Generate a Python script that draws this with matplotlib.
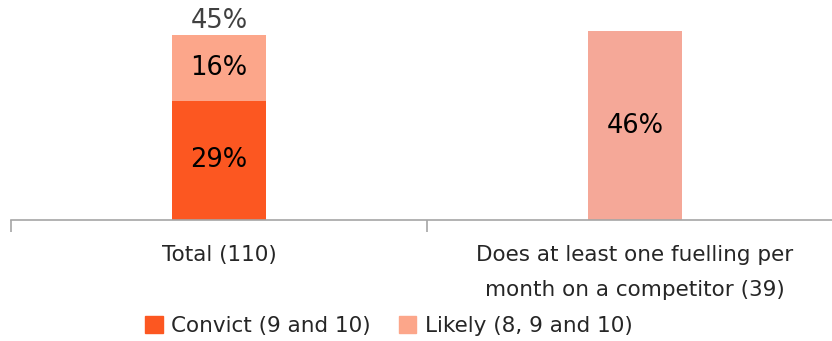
import numpy as np
import matplotlib.pyplot as plt
from matplotlib.patches import Patch

plt.rcParams['font.family'] = ['DejaVu Sans']

categories = ['Total (110)', 'Does at least one fuelling per\nmonth on a competitor (39)']
convict = [29, 0]
likely_extra = [16, 0]
likely_total = [45, 46]

c_convict = '#FC5721'
c_likely = '#FCA68A'
c_likely2 = '#F5A898'
grey = '#A6A6A6'

fig = plt.figure(figsize=(8.32, 3.41), dpi=100)
# axes area measured in pixels: x 11..843, y 0..220
ax = fig.add_axes([11 / 832, 1 - 220 / 341, 832 / 832, 220 / 341])

x = np.arange(len(categories))
w = 0.224

# first category: stacked, second: single likely bar
ax.bar(x[0], convict[0], w, color=c_convict, zorder=2)
ax.bar(x[0], likely_extra[0], w, bottom=convict[0], color=c_likely, zorder=2)
ax.bar(x[1], likely_total[1], w, color=c_likely2, zorder=2)

vs = 18.5
ax.text(x[0], convict[0] / 2, f'{convict[0]}%', ha='center', va='center',
        fontsize=vs, color='black')
ax.text(x[0], convict[0] + likely_extra[0] / 2, f'{likely_extra[0]}%',
        ha='center', va='center', fontsize=vs, color='black')
ax.text(x[0], likely_total[0] + 0.3, f'{likely_total[0]}%', ha='center',
        va='bottom', fontsize=vs, color='#404040')
ax.text(x[1], likely_total[1] / 2, f'{likely_total[1]}%', ha='center',
        va='center', fontsize=vs, color='black')

ax.set_xlim(-0.5, 1.5)
ax.set_ylim(0, 53.6)

for s in ['top', 'right', 'left']:
    ax.spines[s].set_visible(False)
ax.spines['bottom'].set_color(grey)
ax.spines['bottom'].set_linewidth(1.2)
ax.set_yticks([])

ax.set_xticks(x)
ax.set_xticklabels(categories, fontsize=15.5, color='#262626', linespacing=1.95)
ax.tick_params(axis='x', which='major', length=0, pad=18)
ax.set_xticks([-0.5, 0.5, 1.5], minor=True)
ax.tick_params(axis='x', which='minor', length=8.5, width=1.2, color=grey)

handles = [Patch(color=c_convict, label='Convict (9 and 10)'),
           Patch(color=c_likely, label='Likely (8, 9 and 10)')]
fig.legend(handles=handles, loc='center', bbox_to_anchor=(389 / 832, 1 - 326 / 341),
           ncol=2, frameon=False, fontsize=15.5, handlelength=0.8, handleheight=0.8,
           handletextpad=0.4, columnspacing=1.3, labelcolor='#262626')

fig.savefig('out.png', dpi=100)
